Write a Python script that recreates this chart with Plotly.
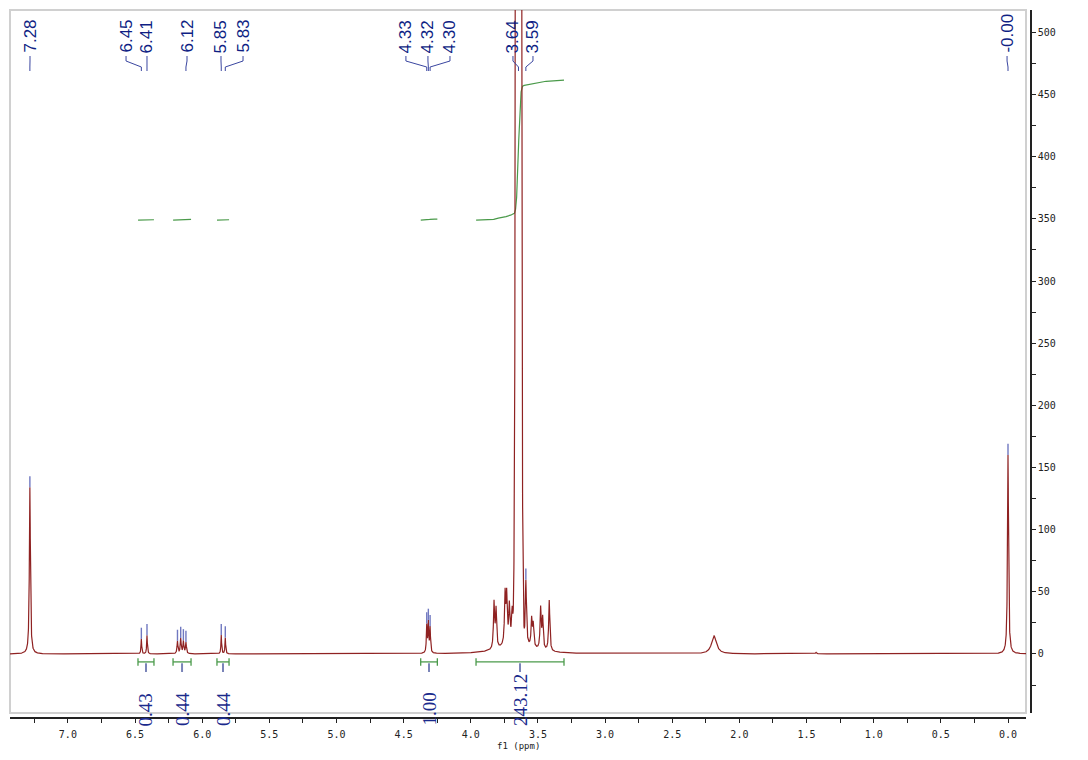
import numpy as np
import plotly.graph_objects as go

# ---------------- data ----------------
# narrow Lorentzian lines: position (ppm), height, half width (ppm)
peak_ppm = [7.283, 6.453, 6.411, 6.184, 6.160, 6.140, 6.121, 5.858, 5.828,
            4.328, 4.316, 4.303,
            3.827, 3.812, 3.745, 3.733, 3.713, 3.692, 3.590, 3.547, 3.535, 3.480, 3.465, 3.416,
            2.189, 1.430, 0.000]
peak_height = [134, 12, 15, 10, 12, 10, 9, 15, 13,
               22, 24, 20,
               37, 31, 40, 38, 30, 26, 52, 22, 18, 33, 25, 41,
               14.5, 1.2, 160]
peak_hwhm = [0.0045, 0.003, 0.003, 0.004, 0.004, 0.004, 0.004, 0.003, 0.003,
             0.0035, 0.0035, 0.0035,
             0.005, 0.005, 0.005, 0.005, 0.005, 0.006, 0.005, 0.005, 0.005, 0.005, 0.005, 0.005,
             0.022, 0.005, 0.0045]
# broad hump under the 3.4-3.9 ppm multiplets
hump_ppm = [3.66]
hump_height = [9]
hump_hwhm = [0.12]
# dominant (off-scale) line at 3.64 ppm
main_ppm = 3.645
main_height = 3000
main_sigma = 0.012

# peak labels at the top
label_text = ["7.28", "6.45", "6.41", "6.12", "5.85", "5.83", "4.33", "4.32", "4.30", "3.64", "3.59", "-0.00"]
label_peak_ppm = [7.283, 6.453, 6.411, 6.121, 5.858, 5.828, 4.328, 4.316, 4.303, 3.645, 3.590, 0.000]
label_pos_ppm = [7.282, 6.567, 6.411, 6.113, 5.860, 5.696, 4.483, 4.319, 4.155, 3.686, 3.537, 0.007]
# picked peaks that carry a small marker
pick_ppm = [7.283, 6.453, 6.411, 6.184, 6.160, 6.140, 6.121, 5.858, 5.828,
            4.328, 4.316, 4.303, 3.590, 0.000]

# integrals
int_from = [6.478, 6.217, 5.890, 4.373, 3.961]
int_to = [6.359, 6.083, 5.800, 4.249, 3.306]
int_text = ["0.43", "0.44", "0.44", "1.00", "243.12"]
int_base = 349.0
int_span = 112.6

# ---------------- build the spectrum ----------------
ppm = np.arange(7.431, -0.135, -0.0005)
spec = np.zeros_like(ppm)
for p, h, g in zip(peak_ppm, peak_height, peak_hwhm):
    spec += h * g**2 / (g**2 + (ppm - p) ** 2)
for p, h, g in zip(hump_ppm, hump_height, hump_hwhm):
    spec += h * g**2 / (g**2 + (ppm - p) ** 2)
spec += main_height * np.exp(-((ppm - main_ppm) ** 2) / (2 * main_sigma**2))

# integral curves (cumulative area, same scale for all regions)
step = 0.0005
areas = []
for a, b in zip(int_from, int_to):
    m = (ppm <= a) & (ppm >= b)
    areas.append(spec[m].sum() * step)
scale = int_span / areas[-1]
ix, iy = [], []
for a, b in zip(int_from, int_to):
    m = (ppm <= a) & (ppm >= b)
    cum = np.cumsum(spec[m]) * step * scale + int_base
    ix += list(ppm[m]) + [None]
    iy += list(cum) + [None]

# ---------------- geometry helpers ----------------
# the page adds an 8 px body margin, so the figure is drawn 8 px smaller
W, H = 1080, 752
ML, MR, MT, MB = 2, 57, 2, 42
PH = H - MT - MB  # plot area height in px
OFF = 8


def py(pix):
    """page pixel row -> paper y"""
    return (H - MB - (pix - OFF)) / PH


RED = "#8f2222"
GREEN = "#4a9a4a"
NAVY = "#0f1f84"
PICK = "#7078c0"

fig = go.Figure()

# integral curves
fig.add_trace(go.Scatter(x=ix, y=iy, mode="lines", line=dict(color=GREEN, width=1.2),
                         hoverinfo="skip", showlegend=False))

# spectrum
fig.add_trace(go.Scatter(x=ppm, y=spec, mode="lines", line=dict(color=RED, width=1.2),
                         hoverinfo="skip", showlegend=False))

# peak pick markers
pick_y = [float(np.interp(-p, -ppm, spec)) + 4.5 for p in pick_ppm]
fig.add_trace(go.Scatter(x=pick_ppm, y=pick_y, mode="markers",
                         marker=dict(symbol="line-ns-open", size=8, color=PICK,
                                     line=dict(color=PICK, width=1.4)),
                         hoverinfo="skip", showlegend=False))

# integral brackets
bx, by = [], []
for a, b in zip(int_from, int_to):
    bx += [a, a, None, a, b, None, b, b, None]
    by += [-3.4, -9.4, None, -6.4, -6.4, None, -3.4, -9.4, None]
fig.add_trace(go.Scatter(x=bx, y=by, mode="lines", line=dict(color=GREEN, width=1.3),
                         hoverinfo="skip", showlegend=False))
cx, cy = [], []
for a, b in zip(int_from, int_to):
    c = (a + b) / 2
    cx += [c, c, None]
    cy += [-7.5, -14.5, None]
fig.add_trace(go.Scatter(x=cx, y=cy, mode="lines", line=dict(color="#7a84b8", width=2),
                         hoverinfo="skip", showlegend=False))

shapes = [dict(type="rect", xref="x domain", yref="y domain", x0=0, x1=1, y0=0, y1=1,
               line=dict(color="#d0d0d0", width=2), layer="below")]
annotations = []

# peak labels + connectors
for t, pk, lp in zip(label_text, label_peak_ppm, label_pos_ppm):
    annotations.append(dict(x=lp, xref="x", y=py(54), yref="paper", text=t, showarrow=False,
                            textangle=-90, xanchor="center", yanchor="bottom",
                            font=dict(family="Liberation Sans, Arial", size=17, color=NAVY),
                            borderpad=0))
    path = (f"M {lp},{py(56)} L {lp},{py(61)} L {pk},{py(67)} L {pk},{py(71)}")
    shapes.append(dict(type="path", xref="x", yref="paper", path=path,
                       line=dict(color="#3a46a0", width=1)))

# integral values
for a, b, t in zip(int_from, int_to, int_text):
    annotations.append(dict(x=(a + b) / 2, xref="x", y=py(727), yref="paper", text=t,
                            showarrow=False, textangle=-90, xanchor="center", yanchor="bottom",
                            font=dict(family="Liberation Serif, Times New Roman", size=19,
                                      color="#1a2a8c"), borderpad=0))

# axis title
annotations.append(dict(x=0.5, xref="x domain", y=py(746), yref="paper", text="f1 (ppm)",
                        showarrow=False, xanchor="center", yanchor="middle",
                        font=dict(family="DejaVu Sans Mono", size=9, color="#222")))

tickfont = dict(family="DejaVu Sans Mono, Liberation Mono", size=10, color="#222")

fig.update_layout(
    width=W, height=H,
    margin=dict(l=ML, r=MR, t=MT, b=MB),
    paper_bgcolor="white", plot_bgcolor="white",
    showlegend=False,
    shapes=shapes, annotations=annotations,
    xaxis=dict(domain=[0, 1016 / 1021], range=[7.431, -0.134], anchor="free", position=0,
               showline=True, linecolor="#222", linewidth=1.5, ticks="outside", ticklen=4,
               tickcolor="#222", tick0=0, dtick=0.5, tickformat=".1f",
               minor=dict(dtick=0.25, ticks="outside", ticklen=4, tickcolor="#222", showgrid=False),
               showgrid=False, zeroline=False, tickfont=tickfont, ticklabelstandoff=3),
    yaxis=dict(domain=[5 / PH, 1], range=[-47.5, 518], anchor="free", position=1, side="right",
               showline=True, linecolor="#222", linewidth=1.5, ticks="outside", ticklen=4,
               tickcolor="#222", tick0=0, dtick=50,
               minor=dict(dtick=25, ticks="outside", ticklen=4, tickcolor="#222", showgrid=False),
               showgrid=False, zeroline=False, tickfont=tickfont),
)

fig.write_html("out.html")
